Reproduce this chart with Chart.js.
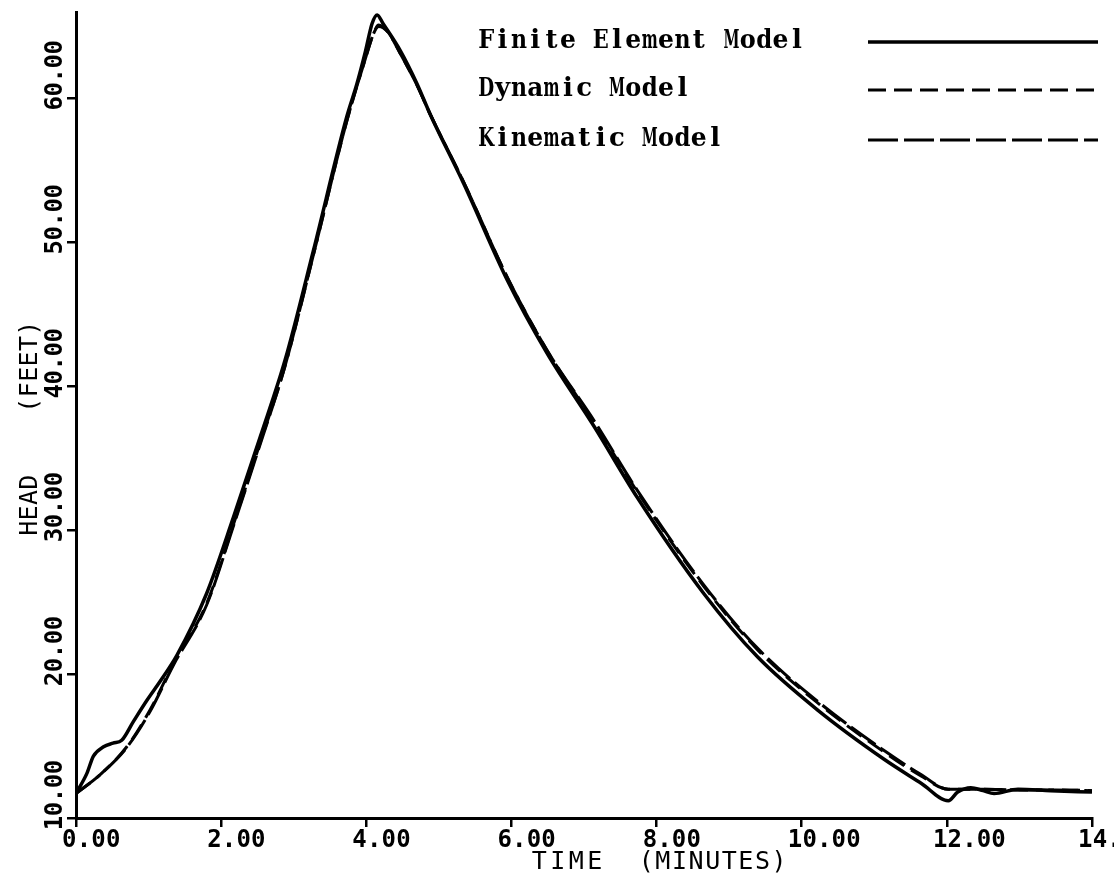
<!DOCTYPE html>
<html>
<head>
<meta charset="utf-8">
<script src="https://cdn.jsdelivr.net/npm/chart.js@4.4.0/dist/chart.umd.min.js"></script>
<style>
  html, body { margin: 0; padding: 0; background: #fff; }
  #wrap { width: 1114px; height: 884px; }
</style>
</head>
<body>
<div id="wrap"><canvas id="headChart" width="1114" height="884"></canvas></div>
<script>
// axis ticks
const xTicks = [0, 2, 4, 6, 8, 10, 12, 14];
const yTicks = [10, 20, 30, 40, 50, 60];

// finite element model (solid)
const feTime = [0, 0.15, 0.24, 0.38, 0.51, 0.63, 0.79, 0.98, 1.16, 1.39, 1.80, 2.17, 2.54, 2.88, 3.27, 3.73, 3.87, 3.99, 4.08, 4.15, 4.23, 4.47, 4.70, 4.88, 5.34, 5.94, 6.49, 7.14, 7.73, 8.65, 9.39, 10.22, 11.13, 11.65, 12.02, 12.15, 12.33, 12.50, 12.65, 12.98, 13.43, 14.00];
const feHead = [11.7, 13.1, 14.3, 14.95, 15.2, 15.4, 16.7, 18.2, 19.5, 21.3, 25.6, 30.9, 36.5, 41.8, 49.4, 58.7, 61.0, 63.3, 65.2, 65.8, 65.2, 63.3, 61.0, 58.9, 54.1, 47.4, 42.3, 37.2, 32.3, 25.6, 21.2, 17.5, 14.1, 12.4, 11.2, 11.8, 12.1, 11.9, 11.7, 12.0, 11.9, 11.8];

// dynamic model (dashed)
const dynTime = [0, 0.33, 0.70, 1.02, 1.34, 1.80, 2.17, 2.54, 2.88, 3.27, 3.73, 3.99, 4.10, 4.17, 4.30, 4.47, 4.70, 4.88, 5.34, 5.94, 6.49, 7.14, 7.73, 8.65, 9.39, 10.22, 11.13, 11.65, 12.02, 12.50, 13.00, 13.50, 14.00];
const dynHead = [11.7, 13.0, 14.95, 17.5, 20.7, 24.9, 30.4, 36.1, 41.4, 49.1, 58.4, 62.8, 64.5, 65.1, 64.6, 63.1, 60.9, 58.9, 54.2, 47.6, 42.5, 37.5, 32.7, 26.1, 21.7, 18.0, 14.6, 12.9, 12.0, 12.0, 11.95, 11.95, 11.9];

// kinematic model (long dashes)
const kinTime = [0, 0.33, 0.70, 1.02, 1.34, 1.80, 2.17, 2.54, 2.88, 3.27, 3.73, 3.99, 4.10, 4.17, 4.30, 4.47, 4.70, 4.88, 5.34, 5.94, 6.49, 7.14, 7.73, 8.65, 9.39, 10.22, 11.13, 11.65, 12.02, 12.50, 13.00, 13.50, 14.00];
const kinHead = [11.7, 13.0, 14.9, 17.4, 20.6, 24.8, 30.3, 36.0, 41.4, 49.1, 58.4, 62.8, 64.5, 65.0, 64.6, 63.1, 60.9, 58.9, 54.2, 47.6, 42.5, 37.6, 32.8, 26.2, 21.8, 18.1, 14.7, 13.0, 12.0, 12.0, 11.95, 11.95, 11.9];

const legendNames = ['Finite Element Model', 'Dynamic Model', 'Kinematic Model'];

const toPoints = (xs, ys) => xs.map((x, i) => ({ x: x, y: ys[i] }));

const plotFont = '"DejaVu Sans Mono", monospace';

// write a string one glyph per fixed cell, like a typewriter / pen plotter
function cellText(ctx, str, x, y, adv, maxW) {
  ctx.textAlign = 'center';
  for (let i = 0; i < str.length; i++) {
    ctx.fillText(str[i], x + adv * i + adv / 2, y, maxW);
  }
}

// text drawn around the axes plus the legend on the right
const plotText = {
  id: 'plotText',
  afterDraw(chart) {
    const ctx = chart.ctx;
    const xs = chart.scales.x;
    const ys = chart.scales.y;
    ctx.save();
    ctx.fillStyle = '#000';
    ctx.textBaseline = 'middle';

    // x tick labels
    ctx.font = 'bold 24px ' + plotFont;
    xTicks.forEach(v => {
      cellText(ctx, v.toFixed(2), xs.getPixelForValue(v) - 14, 841, 14.6);
    });

    // y tick labels, written upward
    yTicks.forEach(v => {
      const py = ys.getPixelForValue(v);
      ctx.save();
      ctx.translate(56, py + 12);
      ctx.rotate(-Math.PI / 2);
      cellText(ctx, v.toFixed(2), 0, 0, 14);
      ctx.restore();
    });

    // axis titles
    ctx.font = '25px ' + plotFont;
    cellText(ctx, 'TIME', 530, 862, 18.5);
    cellText(ctx, '(MINUTES)', 638, 862, 16.6);
    ctx.save();
    ctx.translate(30, 536);
    ctx.rotate(-Math.PI / 2);
    cellText(ctx, 'HEAD    (FEET)', 0, 0, 15.4);
    ctx.restore();

    // legend
    const rows = [41, 89, 139];
    chart.data.datasets.forEach((ds, i) => {
      ctx.font = 'bold 26px "DejaVu Serif", serif';
      cellText(ctx, legendNames[i], 478, rows[i], 16.35, 16);
      ctx.beginPath();
      ctx.lineWidth = ds.borderWidth;
      ctx.strokeStyle = ds.borderColor;
      ctx.setLineDash(ds.borderDash || []);
      ctx.moveTo(868, rows[i] + 1);
      ctx.lineTo(1098, rows[i] + 1);
      ctx.stroke();
    });
    ctx.restore();
  }
};

new Chart(document.getElementById('headChart'), {
  type: 'line',
  data: {
    datasets: [
      {
        label: legendNames[0],
        data: toPoints(feTime, feHead),
        borderColor: '#000',
        borderWidth: 3.5,
        pointRadius: 0,
        cubicInterpolationMode: 'monotone'
      },
      {
        label: legendNames[1],
        data: toPoints(dynTime, dynHead),
        borderColor: '#000',
        borderWidth: 3,
        borderDash: [18, 8],
        pointRadius: 0,
        cubicInterpolationMode: 'monotone'
      },
      {
        label: legendNames[2],
        data: toPoints(kinTime, kinHead),
        borderColor: '#000',
        borderWidth: 3,
        borderDash: [30, 6],
        pointRadius: 0,
        cubicInterpolationMode: 'monotone'
      }
    ]
  },
  options: {
    responsive: false,
    animation: false,
    layout: { padding: { left: 0, right: 22, top: 12, bottom: 0 } },
    plugins: {
      legend: { display: false },
      tooltip: { enabled: false }
    },
    scales: {
      x: {
        type: 'linear',
        min: 0,
        max: 14,
        afterBuildTicks: s => { s.ticks = xTicks.map(v => ({ value: v })); },
        afterFit: s => { s.height = 66; },
        ticks: { display: false },
        grid: { drawOnChartArea: false, drawTicks: true, tickLength: 9, color: '#000', lineWidth: 2.5 },
        border: { display: true, color: '#000', width: 3 }
      },
      y: {
        type: 'linear',
        min: 10,
        max: 66,
        afterBuildTicks: s => { s.ticks = yTicks.map(v => ({ value: v })); },
        afterFit: s => { s.width = 76; },
        ticks: { display: false },
        grid: { drawOnChartArea: false, drawTicks: true, tickLength: 9, color: '#000', lineWidth: 2.5 },
        border: { display: true, color: '#000', width: 3 }
      }
    }
  },
  plugins: [plotText]
});
</script>
</body>
</html>
